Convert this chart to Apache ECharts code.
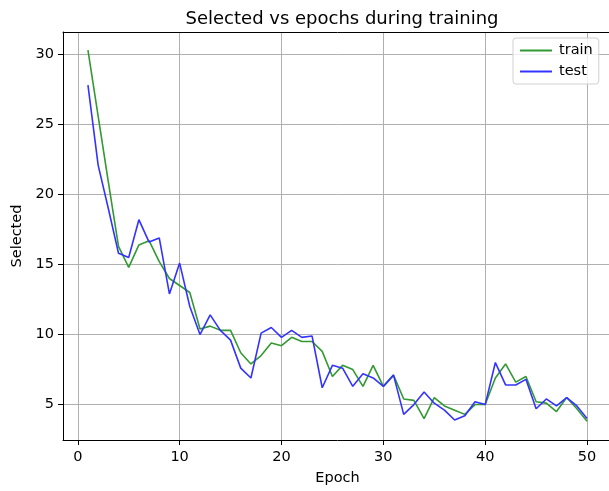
<!DOCTYPE html>
<html>
<head>
<meta charset="utf-8">
<script src="https://cdn.jsdelivr.net/npm/echarts@6/dist/echarts.min.js"></script>
<style>
html,body{margin:0;padding:0;background:#fff;overflow:hidden;width:609px;height:491px;}
#c{width:616px;height:491px;}
</style>
</head>
<body>
<div id="c"></div>
<script>
var epochs = [1,2,3,4,5,6,7,8,9,10,11,12,13,14,15,16,17,18,19,20,21,22,23,24,25,26,27,28,29,30,31,32,33,34,35,36,37,38,39,40,41,42,43,44,45,46,47,48,49,50];
var train = [30.3,25.6,20.9,16.3,14.8,16.4,16.7,15.2,14.0,13.5,13.0,10.4,10.6,10.3,10.3,8.7,7.9,8.5,9.4,9.2,9.8,9.5,9.5,8.8,7.0,7.8,7.5,6.3,7.8,6.3,7.1,5.4,5.3,4.0,5.5,4.9,4.6,4.3,5.0,5.0,6.9,7.9,6.6,7.0,5.2,5.1,4.5,5.5,4.7,3.8];
var test = [27.8,22.1,19.0,15.8,15.5,18.2,16.6,16.9,12.9,15.1,12.0,10.0,11.4,10.3,9.6,7.6,6.9,10.1,10.5,9.8,10.3,9.8,9.9,6.2,7.8,7.6,6.3,7.2,6.9,6.3,7.1,4.3,5.0,5.9,5.1,4.6,3.9,4.2,5.2,5.0,8.0,6.4,6.4,6.8,4.7,5.4,4.9,5.5,4.9,4.0];
var xTicks = [0,10,20,30,40,50];
var yTicks = [5,10,15,20,25,30];

var font = 'DejaVu Sans';
function pairs(xs, ys){ return xs.map(function(x,i){return [x, ys[i]];}); }

var chart = echarts.init(document.getElementById('c'), null, {renderer:'canvas'});
chart.setOption({
  animation:false,
  backgroundColor:'#fff',
  textStyle:{fontFamily:font},
  title:{
    text:'Selected vs epochs during training',
    left:337, top:5, textAlign:'center',
    textStyle:{fontFamily:font, fontSize:18, fontWeight:'normal', color:'#000'}
  },
  grid:{left:63, top:32, width:549, height:409, show:false},
  legend:{
    orient:'vertical', left:513, top:38,
    padding:[5,6,5,7], itemGap:6, itemWidth:32, itemHeight:2,
    backgroundColor:'rgba(255,255,255,0.8)', borderColor:'#d0d0d0', borderWidth:1, borderRadius:3,
    textStyle:{fontFamily:font, fontSize:14.5, color:'#000', padding:[0,0,0,2]},
    data:[
      {name:'train', icon:'path://M0,0 L32,0 L32,2 L0,2 Z', itemStyle:{color:'#339933'}},
      {name:'test', icon:'path://M0,0 L32,0 L32,2 L0,2 Z', itemStyle:{color:'#3333ff'}}
    ]
  },
  xAxis:[{
    type:'value', min:-1.45, max:52.45,
    name:'Epoch', nameLocation:'middle', nameGap:31,
    nameTextStyle:{fontFamily:font, fontSize:14.5, color:'#000'},
    axisLine:{show:true, onZero:false, lineStyle:{color:'#000', width:1}},
    axisTick:{show:true, inside:false, length:5, customValues:xTicks, lineStyle:{color:'#000'}},
    axisLabel:{customValues:xTicks, margin:10, fontFamily:font, fontSize:14.5, color:'#000'},
    splitLine:{show:true, lineStyle:{color:'#b0b0b0', width:1}}
  },{
    type:'value', position:'top', min:-1.45, max:52.45,
    axisLine:{show:true, onZero:false, lineStyle:{color:'#000', width:1}},
    axisTick:{show:false}, axisLabel:{show:false}, splitLine:{show:false}
  }],
  yAxis:{
    type:'value', min:2.47, max:31.6,
    name:'Selected', nameLocation:'middle', nameGap:38, nameRotate:90,
    nameTextStyle:{fontFamily:font, fontSize:14.5, color:'#000'},
    axisLine:{show:true, onZero:false, lineStyle:{color:'#000', width:1}},
    axisTick:{show:true, inside:false, length:5, customValues:yTicks, lineStyle:{color:'#000'}},
    axisLabel:{customValues:yTicks, margin:9, fontFamily:font, fontSize:14.5, color:'#000'},
    splitLine:{show:true, lineStyle:{color:'#b0b0b0', width:1}}
  },
  series:[
    {name:'train', type:'line', data:pairs(epochs, train), showSymbol:false, symbol:'none',
     lineStyle:{color:'#339933', width:1.6}, itemStyle:{color:'#339933'}},
    {name:'test', type:'line', data:pairs(epochs, test), showSymbol:false, symbol:'none',
     lineStyle:{color:'#3333ff', width:1.6}, itemStyle:{color:'#3333ff'}}
  ]
});
</script>
</body>
</html>
